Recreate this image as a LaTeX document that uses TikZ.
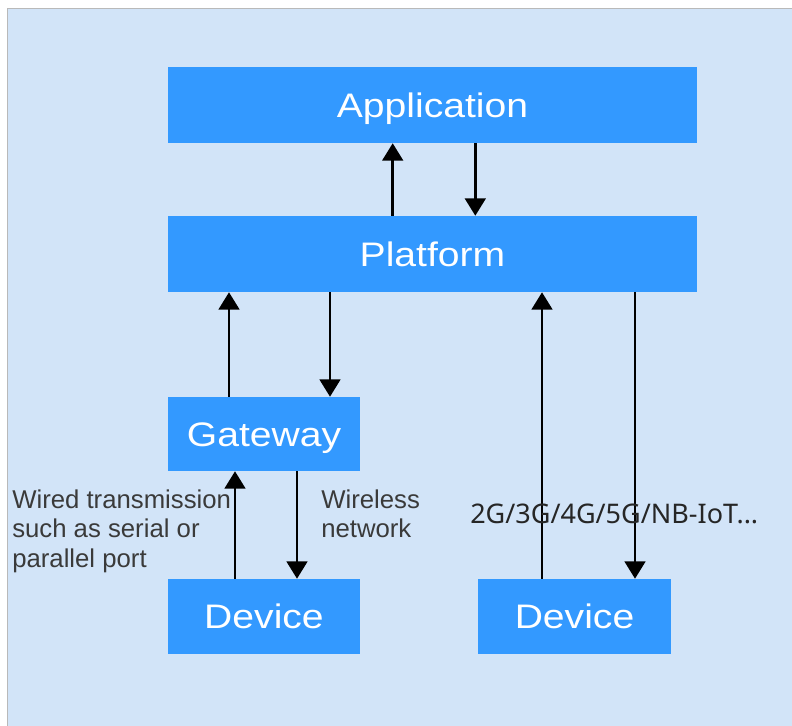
\documentclass[tikz,border=0pt]{standalone}
\usepackage{fontspec}
\usepackage{graphicx}
\setmainfont{Liberation Sans}
\newfontfamily\netfont{Noto Sans}
\usetikzlibrary{arrows.meta}
\definecolor{bgblue}{RGB}{210,228,248}
\definecolor{boxblue}{RGB}{51,153,255}
\definecolor{notegray}{RGB}{58,58,58}
\tikzset{
  box/.style={fill=boxblue, inner sep=0pt, text=white, text height=18.26pt, text depth=0pt, font=\fontsize{25.5}{30}\selectfont},
  widebox/.style={box, minimum width=396.75pt, minimum height=57pt},
  smallbox/.style={box, minimum width=144pt, minimum height=56.25pt},
  link/.style={line width=1.9pt, -{Triangle[width=15.5pt,length=13pt]}},
  note/.style={anchor=north west, inner sep=0pt, align=left, text=notegray, font=\fontsize{19.3}{21.8}\selectfont}
}
\newcommand{\boxword}[1]{\scalebox{1.15}[1]{#1}}
\begin{document}
\begin{tikzpicture}[x=0.75pt, y=-0.75pt]
            \useasboundingbox (0, 0) rectangle (792, 725);
            \draw[draw=gray!55, fill=bgblue] (7, 8) rectangle (820, 760);
            % boxes
            \node (app) at (432.5, 105)[widebox]{\boxword{Application}};
            \node (plat) at (432.5, 254)[widebox]{\boxword{Platform}};
            \node (gw) at (264, 434)[smallbox, minimum height=55.5pt]{\boxword{Gateway}};
            \node (devA) at (264, 616.5)[smallbox]{\boxword{Device}};
            \node (devB) at (574.5, 616.5)[smallbox, minimum width=144.75pt]{\boxword{Device}};
            % links
            \draw[link] (plat.north -| 392.7,0) -- (app.south -| 392.7,0);
            \draw[link] (app.south -| 475.3,0) -- (plat.north -| 475.3,0);
            \draw[link] (gw.north -| 229,0) -- (plat.south -| 229,0);
            \draw[link] (plat.south -| 330,0) -- (gw.north -| 330,0);
            \draw[link] (devA.north -| 235,0) -- (gw.south -| 235,0);
            \draw[link] (gw.south -| 297,0) -- (devA.north -| 297,0);
            \draw[link] (devB.north -| 542,0) -- (plat.south -| 542,0);
            \draw[link] (plat.south -| 635,0) -- (devB.north -| 635,0);
            % labels
            \node (wired) at (12, 490)[note]{Wired transmission\\such as serial or\\parallel port};
            \node (wless) at (321, 490)[note]{Wireless\\network};
            \node (cell) at (470, 523)[anchor=base west, inner sep=0pt, text=black!85, font=\netfont\fontsize{20.25}{24}\selectfont]{2G/3G/4G/5G/NB-IoT...};
        \end{tikzpicture}
\end{document}
